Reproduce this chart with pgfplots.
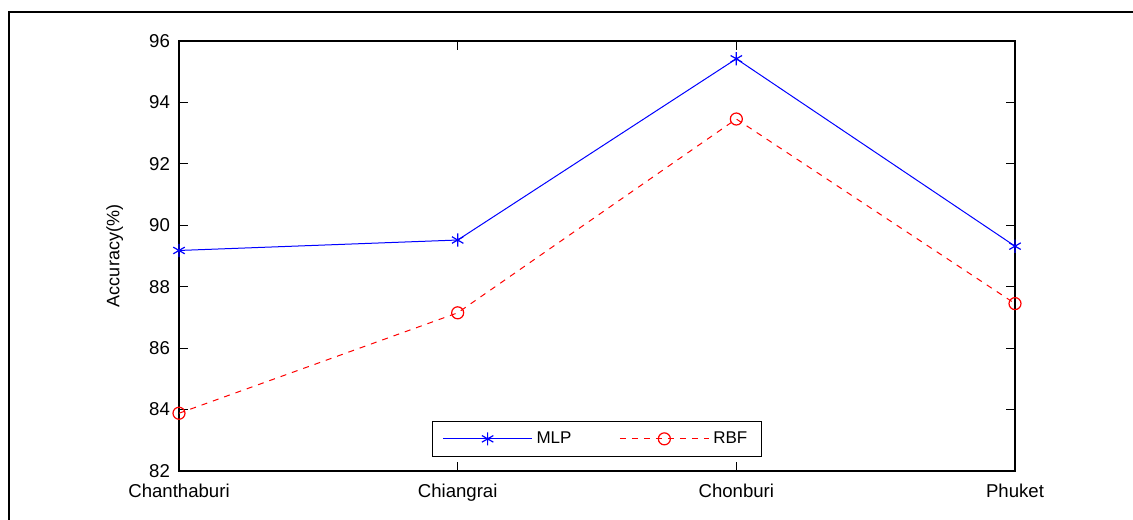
\documentclass[border=0pt]{standalone}
\usepackage{pgfplots}
\pgfplotsset{compat=1.18}
\usepackage{fontspec}
\setmainfont{Liberation Sans}
\begin{document}
\begin{tikzpicture}
\useasboundingbox (0,0) rectangle (566.5pt,259.5pt);
\draw[line width=1.2pt] (4.5pt,-2pt) -- (4.5pt,253.5pt) -- (570pt,253.5pt);
\begin{axis}[
  at={(89.5pt,24pt)}, anchor=south west,
  scale only axis, width=418pt, height=215pt,
  xmin=0, xmax=3, ymin=82, ymax=96,
  xtick={0,1,2,3},
  xticklabels={Chanthaburi,Chiangrai,Chonburi,Phuket},
  ytick={82,84,...,96},
  tick align=inside, tick pos=both,
  major tick length=4.5pt,
  axis line style={line width=0.6pt},
  tick style={line width=0.6pt, black},
  tick label style={font=\fontsize{9.3}{10}\selectfont},
  /pgf/number format/assume math mode=true,
  yticklabel style={xshift=-1pt},
  xticklabel style={yshift=-3pt},
  ylabel={Accuracy(\%)},
  ylabel style={font=\fontsize{9}{10}\selectfont, at={(axis description cs:-0.077,0.5)}, anchor=center},
  legend style={at={(0.5,0.033)}, anchor=south, legend columns=2,
    font=\fontsize{8.5}{9}\selectfont, draw=black, line width=0.6pt,
    /tikz/every even column/.append style={column sep=22pt},
    inner xsep=5pt, inner ysep=3pt},
  legend image code/.code={
    \draw[mark repeat=2, mark phase=2, #1] plot coordinates {(0cm,0cm) (0.78cm,0cm) (1.56cm,0cm)};
  },
]
\addplot[blue, line width=0.5pt, mark=asterisk, mark size=3.3pt, mark options={solid, line width=0.6pt}]
  coordinates {(0,89.18) (1,89.52) (2,95.42) (3,89.32)};
\addlegendentry{MLP}
\addplot[red, dashed, line width=0.5pt, mark=o, mark size=3pt, mark options={solid, line width=0.6pt}]
  coordinates {(0,83.88) (1,87.15) (2,93.46) (3,87.45)};
\addlegendentry{RBF}
\end{axis}
\end{tikzpicture}
\end{document}
